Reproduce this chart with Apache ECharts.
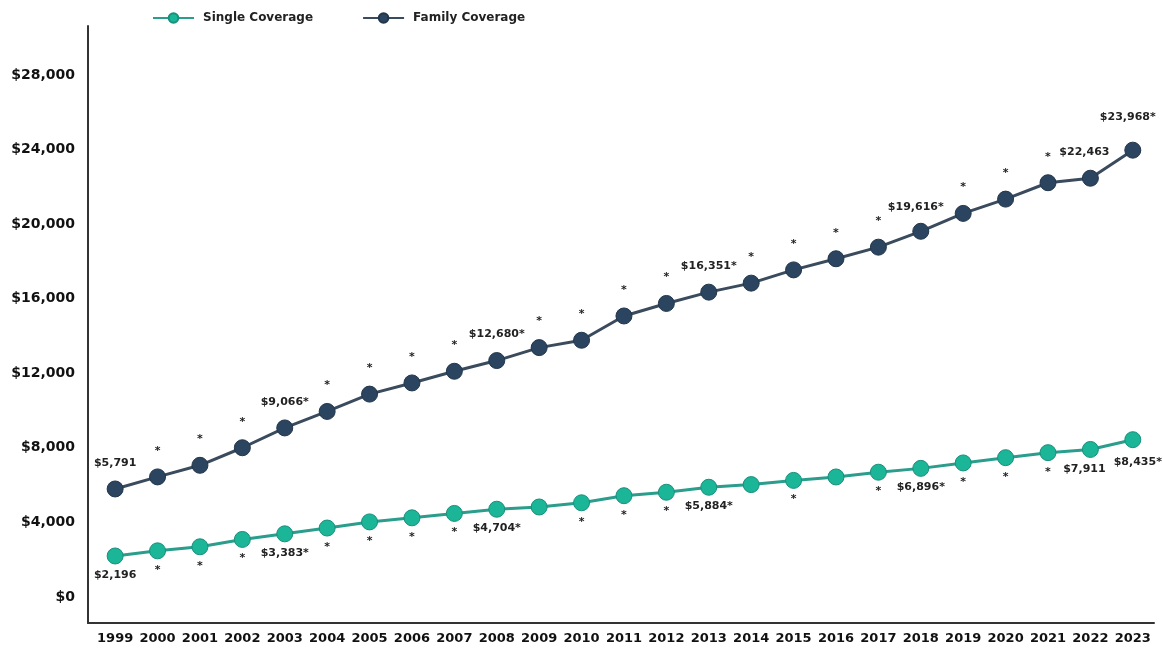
<!DOCTYPE html>
<html>
<head>
<meta charset="utf-8">
<script src="https://cdn.jsdelivr.net/npm/echarts@6/dist/echarts.min.js"></script>
<style>
  html, body { margin: 0; padding: 0; background: #ffffff; }
  #chart { width: 1163px; height: 650px; }
</style>
</head>
<body>
<div id="chart"></div>
<script>
// Average annual premiums, single vs. family coverage
const years = [1999, 2000, 2001, 2002, 2003, 2004, 2005, 2006, 2007, 2008, 2009, 2010,
  2011, 2012, 2013, 2014, 2015, 2016, 2017, 2018, 2019, 2020, 2021, 2022, 2023];
const singleValues = [2196, 2471, 2689, 3083, 3383, 3695, 4024, 4242, 4479, 4704, 4824, 5049,
  5429, 5615, 5884, 6025, 6251, 6435, 6690, 6896, 7188, 7470, 7739, 7911, 8435];
const familyValues = [5791, 6438, 7061, 8003, 9066, 9950, 10880, 11480, 12106, 12680, 13375, 13770,
  15073, 15745, 16351, 16834, 17545, 18142, 18764, 19616, 20576, 21342, 22221, 22463, 23968];
// Years whose value is printed next to the point
const labeledYears = [1999, 2003, 2008, 2013, 2018, 2022, 2023];
// Years marked with an asterisk (change from previous year is significant)
const singleStarYears = [2000, 2001, 2002, 2003, 2004, 2005, 2006, 2007, 2008, 2010, 2011, 2012,
  2013, 2015, 2017, 2018, 2019, 2020, 2021, 2023];
const familyStarYears = [2000, 2001, 2002, 2003, 2004, 2005, 2006, 2007, 2008, 2009, 2010, 2011,
  2012, 2013, 2014, 2015, 2016, 2017, 2018, 2019, 2020, 2021, 2023];
const yTicks = [0, 4000, 8000, 12000, 16000, 20000, 24000, 28000];

const FONT = '"DejaVu Sans", sans-serif';
const money = v => '$' + v.toLocaleString('en-US');

function labelText(year, value, starYears) {
  const star = starYears.includes(year);
  if (labeledYears.includes(year)) return money(value) + (star ? '*' : '');
  return star ? '*' : '';
}

// per-point label tweaks so the printed values avoid the line
const familyOffsets = { 2022: [-6, 0], 2023: [-5, -7], 2018: [-5, 2] };
const singleOffsets = { 2023: [5, 3], 2022: [-6, 1] };

function buildData(values, starYears, offsets) {
  return years.map((y, i) => {
    const item = { value: [y, values[i]], name: labelText(y, values[i], starYears) };
    if (offsets[y]) item.label = { offset: offsets[y] };
    return item;
  });
}

const chart = echarts.init(document.getElementById('chart'), null, { renderer: 'canvas' });

chart.setOption({
  animation: false,
  backgroundColor: '#ffffff',
  legend: {
    top: 7,
    left: 147,
    itemWidth: 41,
    itemHeight: 12,
    itemGap: 49,
    textStyle: { fontFamily: FONT, fontWeight: 'bold', fontSize: 12, color: '#222', padding: [0, 0, 0, 4] },
    data: ['Single Coverage', 'Family Coverage']
  },
  grid: { left: 88, right: 9, top: 26, bottom: 27, containLabel: false },
  xAxis: {
    type: 'value',
    min: 1998.36,
    max: 2023.5,
    splitLine: { show: false },
    axisTick: { show: false },
    axisLine: { show: true, onZero: false, lineStyle: { color: '#333', width: 2 } },
    axisLabel: {
      customValues: years,
      margin: 9,
      fontFamily: FONT, fontWeight: 'bold', fontSize: 13, color: '#111',
      formatter: v => String(v)
    }
  },
  yAxis: {
    type: 'value',
    min: -1400,
    max: 30630,
    splitLine: { show: false },
    axisTick: { show: false },
    axisLine: { show: true, onZero: false, lineStyle: { color: '#333', width: 2 } },
    axisLabel: {
      customValues: yTicks,
      margin: 13,
      fontFamily: FONT, fontWeight: 'bold', fontSize: 14, color: '#111',
      formatter: v => money(v)
    }
  },
  series: [
    {
      name: 'Single Coverage',
      type: 'line',
      symbol: 'circle',
      symbolSize: 16,
      z: 3,
      lineStyle: { color: '#2a9d8c', width: 3 },
      itemStyle: { color: '#1bb598', borderColor: '#1a8f7c', borderWidth: 1 },
      label: {
        show: true, position: 'bottom', distance: 5,
        formatter: p => p.name,
        fontFamily: FONT, fontWeight: 'bold', fontSize: 11, color: '#222'
      },
      data: buildData(singleValues, singleStarYears, singleOffsets)
    },
    {
      name: 'Family Coverage',
      type: 'line',
      symbol: 'circle',
      symbolSize: 16,
      z: 3,
      lineStyle: { color: '#3a4b5d', width: 3 },
      itemStyle: { color: '#2b4560', borderColor: '#22364b', borderWidth: 1 },
      label: {
        show: true, position: 'top', distance: 12,
        formatter: p => p.name,
        fontFamily: FONT, fontWeight: 'bold', fontSize: 11, color: '#222'
      },
      data: buildData(familyValues, familyStarYears, familyOffsets)
    }
  ]
});
</script>
</body>
</html>
